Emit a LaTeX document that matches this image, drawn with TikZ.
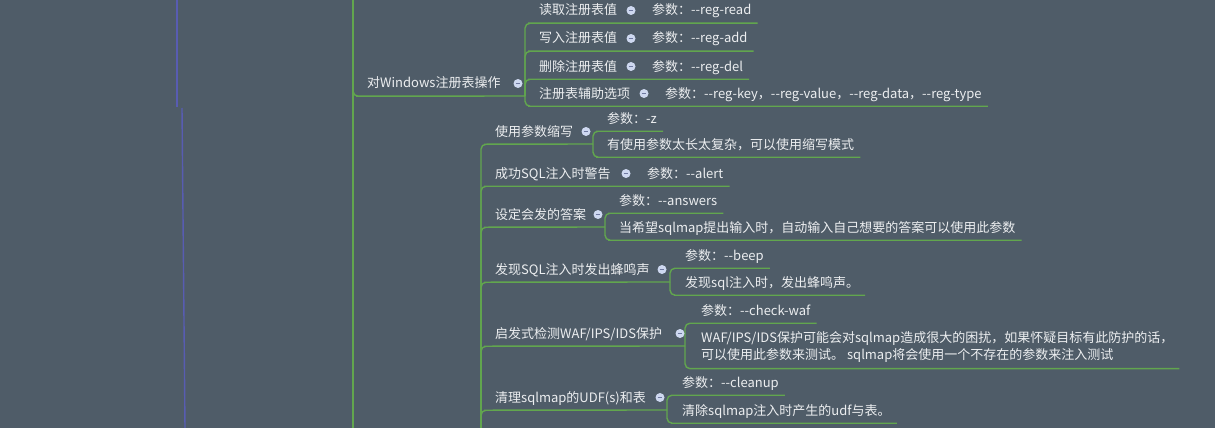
\documentclass[tikz,border=0pt]{standalone}
\usepackage{fontspec}
\newfontfamily\mapfont{Noto Sans CJK SC}
\usetikzlibrary{calc}
\definecolor{bgmap}{RGB}{79,92,104}
\definecolor{branchgreen}{RGB}{98,166,78}
\definecolor{trunkblue}{RGB}{88,92,178}
\definecolor{textgrey}{RGB}{236,238,240}
\definecolor{dotfill}{RGB}{206,216,240}
\definecolor{dotmark}{RGB}{110,120,160}
\tikzset{
	branch/.style={draw=branchgreen, line width=1.4pt, rounded corners=5pt},
	trunk/.style={draw=trunkblue, line width=1.4pt},
	topicbase/.style={anchor=west, inner xsep=6pt, inner ysep=6pt, text=textgrey, font=\mapfont\fontsize{13}{17}\selectfont},
	topic/.style={topicbase, text height=11pt, text depth=2pt},
	dot/.style={circle, fill=dotfill, minimum size=9pt, inner sep=0pt, path picture={\draw[dotmark, line width=0.8pt] ([xshift=-2.4pt]path picture bounding box.center) -- ([xshift=2.4pt]path picture bounding box.center);}}
}

\begin{document}
\begin{tikzpicture}[x=1pt, y=-1pt]
			%%%%% START %%%%%
			
			\useasboundingbox (0,0) rectangle (1215,428);
			\fill[bgmap] (0,0) rectangle (1215,428);
			\clip (0,0) rectangle (1215,428);
			
			\draw[trunk] (177,0) -- (177,107);
			\draw[trunk] (182,108) -- (185,428);
			
			\coordinate (m0) at (353,0);
			\coordinate (m1) at (353,428);
			\coordinate (jw) at (525,96);
			\coordinate (g0) at (481,440);
			\coordinate (ja) at (593,144);
			\coordinate (jn) at (605,227);
			\coordinate (jb) at (670,282);
			\coordinate (jc) at (685,346);
			\coordinate (jd) at (667,410);
			
			% registry group
			\node[topic] (win) at (361,83.5) {对Windows注册表操作};
			\node[topic] (rd) at (533,10.5) {读取注册表值};
			\node[topic] (rdp) at (646,10.5) {参数：--reg-read};
			\node[topic] (wr) at (533,38.5) {写入注册表值};
			\node[topic] (wrp) at (646,38.5) {参数：--reg-add};
			\node[topic] (de) at (533,66.5) {删除注册表值};
			\node[topic] (dep) at (646,66.5) {参数：--reg-del};
			\node[topic] (au) at (533,93.5) {注册表辅助选项};
			\node[topic] (aup) at (659,93.5) {参数：--reg-key，--reg-value，--reg-data，--reg-type};
			
			\draw[branch] (m0) -- (m1);
			\draw[branch] (m0) |- (win.south west) -- (jw);
			\draw[branch] (jw) |- (rd.south west) -- (rdp.south east);
			\draw[branch] (jw) |- (wr.south west) -- (wrp.south east);
			\draw[branch] (jw) |- (de.south west) -- (dep.south east);
			\draw[branch] (jw) |- (au.south west) -- (aup.south east);
			
			% option group
			\node[topic] (ab) at (489,131.5) {使用参数缩写};
			\node[topic] (abp) at (601,118.5) {参数：-z};
			\node[topic] (abd) at (601,144.5) {有使用参数太长太复杂，可以使用缩写模式};
			\node[topic] (al) at (489,173.5) {成功SQL注入时警告};
			\node[topic] (alp) at (641,173.5) {参数：--alert};
			\node[topic] (an) at (489,214.5) {设定会发的答案};
			\node[topic] (anp) at (613,200.5) {参数：--answers};
			\node[topic] (ans) at (613,227.5) {当希望sqlmap提出输入时，自动输入自己想要的答案可以使用此参数};
			\node[topic] (be) at (489,269.5) {发现SQL注入时发出蜂鸣声};
			\node[topic] (bep) at (679,255.5) {参数：--beep};
			\node[topic] (bed) at (679,282.5) {发现sql注入时，发出蜂鸣声。};
			\node[topic] (wa) at (489,333.5) {启发式检测WAF/IPS/IDS保护};
			\node[topic] (wap) at (695,310.5) {参数：--check-waf};
			\node[topicbase, align=left] (wad) at (695,347) {WAF/IPS/IDS保护可能会对sqlmap造成很大的困扰，如果怀疑目标有此防护的话，\\可以使用此参数来测试。 sqlmap将会使用一个不存在的参数来注入测试};
			\node[topic] (cl) at (489,397.5) {清理sqlmap的UDF(s)和表};
			\node[topic] (clp) at (676,382.5) {参数：--cleanup};
			\node[topic] (cld) at (676,410.5) {清除sqlmap注入时产生的udf与表。};
			
			\draw[branch] (g0) |- (ab.south west) -- (ja);
			\draw[branch] (ja) |- (abp.south west) -- (abp.south east);
			\draw[branch] (ja) |- (abd.south west) -- (abd.south east);
			\draw[branch] (g0) |- (al.south west) -- (alp.south east);
			\draw[branch] (g0) |- (an.south west) -- (jn);
			\draw[branch] (jn) |- (anp.south west) -- (anp.south east);
			\draw[branch] (jn) |- (ans.south west) -- (ans.south east);
			\draw[branch] (g0) |- (be.south west) -- (jb);
			\draw[branch] (jb) |- (bep.south west) -- (bep.south east);
			\draw[branch] (jb) |- (bed.south west) -- (bed.south east);
			\draw[branch] (g0) |- (wa.south west) -- (jc);
			\draw[branch] (jc) |- (wap.south west) -- (wap.south east);
			\draw[branch] (jc) |- (wad.south west) -- (wad.south east);
			\draw[branch] (g0) |- (cl.south west) -- (jd);
			\draw[branch] (jd) |- (clp.south west) -- (clp.south east);
			\draw[branch] (jd) |- (cld.south west) -- (cld.south east);
			
			% collapse dots
			\node[dot] (winb) at (518,83.5) {};
			\node[dot] (rdb) at (631,10.5) {};
			\node[dot] (wrb) at (631,38.5) {};
			\node[dot] (deb) at (631,66.5) {};
			\node[dot] (aub) at (644,93.5) {};
			\node[dot] (abb) at (586,131.5) {};
			\node[dot] (alb) at (626,173.5) {};
			\node[dot] (anb) at (598,214.5) {};
			\node[dot] (beb) at (662,269.5) {};
			\node[dot] (wab) at (680,333.5) {};
			\node[dot] (clb) at (660,397.5) {};
			
			%%%%% END %%%%%
\end{tikzpicture}
\end{document}
